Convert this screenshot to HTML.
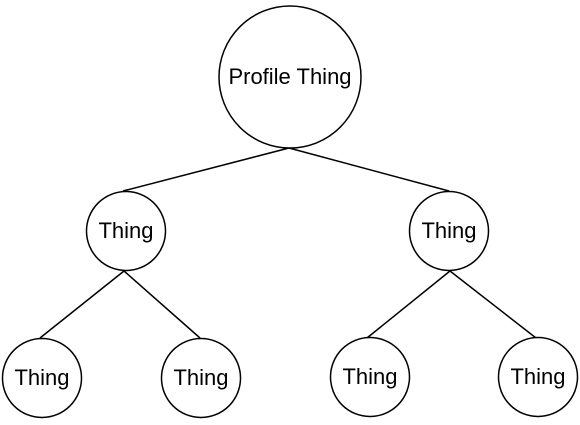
<!DOCTYPE html>
<html><head><style>html,body{margin:0;padding:0;background:#fff;}</style></head>
<body>
<svg width="580" height="420" xmlns="http://www.w3.org/2000/svg" font-family="Liberation Sans, Arial, sans-serif" font-size="22">
<g stroke="#000" stroke-width="1.5" fill="none">
<line x1="289" y1="148" x2="123" y2="191"/>
<line x1="289" y1="148" x2="449" y2="191"/>
<line x1="124" y1="271" x2="40" y2="338"/>
<line x1="124" y1="271" x2="200" y2="338"/>
<line x1="450" y1="271" x2="367" y2="338"/>
<line x1="450" y1="271" x2="536" y2="338"/>
</g>
<g stroke="#000" stroke-width="1.5" fill="#fff">
<circle cx="290" cy="77" r="71"/>
<circle cx="126" cy="231" r="39.5"/>
<circle cx="449" cy="231" r="39.5"/>
<circle cx="42" cy="378" r="39.5"/>
<circle cx="201" cy="378" r="39.5"/>
<circle cx="370" cy="377" r="39.5"/>
<circle cx="538" cy="377" r="39.5"/>
</g>
<g text-anchor="middle" fill="#000">
<text x="290" y="84">Profile Thing</text>
<text x="126" y="238">Thing</text>
<text x="449" y="238">Thing</text>
<text x="42" y="385">Thing</text>
<text x="201" y="385">Thing</text>
<text x="370" y="384">Thing</text>
<text x="538" y="384">Thing</text>
</g>
</svg>
</body></html>
